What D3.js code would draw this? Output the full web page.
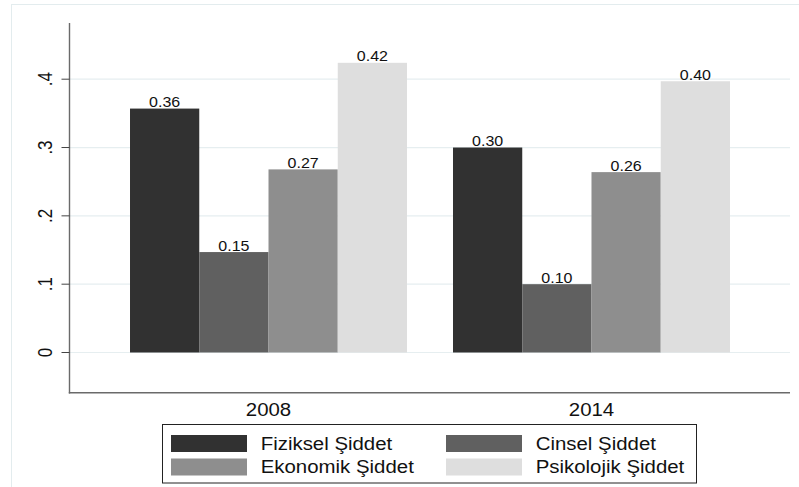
<!DOCTYPE html>
<html>
<head>
<meta charset="utf-8">
<script src="https://cdn.jsdelivr.net/npm/d3@7"></script>
<style>
  html, body { margin: 0; padding: 0; background: #fff; }
  svg { display: block; font-family: "Liberation Sans", Arial, Helvetica, sans-serif; }
</style>
</head>
<body>
<svg id="chart" width="799" height="487"></svg>
<script>
const years = ["2008", "2014"];
const seriesNames = ["Fiziksel Şiddet", "Cinsel Şiddet", "Ekonomik Şiddet", "Psikolojik Şiddet"];
const fiziksel = [0.357, 0.300];
const cinsel = [0.147, 0.100];
const ekonomik = [0.268, 0.264];
const psikolojik = [0.424, 0.397];
const yTicks = [0, 0.1, 0.2, 0.3, 0.4];
const yTickLabels = ["0", ".1", ".2", ".3", ".4"];
const seriesColors = ["#313131", "#606060", "#8e8e8e", "#dedede"];

const seriesValues = [fiziksel, cinsel, ekonomik, psikolojik];

const svg = d3.select("#chart");
const W = 799, H = 487;
const plotLeft = 70, plotRight = 790, plotTop = 23, plotBottom = 392.7;
const SX = 1.16; // horizontal stretch of the reference typography

// outer faint frame
svg.append("rect").attr("x", 11.5).attr("y", 4.5).attr("width", W).attr("height", H)
  .attr("fill", "none").attr("stroke", "#e3ecee").attr("stroke-width", 1);

const y = d3.scaleLinear().domain([0, 0.4]).range([352.5, 79.2]);
const x0 = d3.scaleBand().domain(years).range([plotLeft, plotRight])
  .paddingInner(0.1424).paddingOuter(0.1858);
const x1 = d3.scaleBand().domain(d3.range(seriesNames.length)).range([0, x0.bandwidth()]).padding(0);

// gridlines
svg.append("g").selectAll("line").data(yTicks).join("line")
  .attr("x1", plotLeft).attr("x2", plotRight)
  .attr("y1", d => y(d)).attr("y2", d => y(d))
  .attr("stroke", "#e6eef0").attr("stroke-width", 1.2);

// bars
const groups = svg.append("g").selectAll("g").data(years).join("g")
  .attr("transform", d => `translate(${x0(d)},0)`);

groups.each(function(yr, gi) {
  const g = d3.select(this);
  const data = seriesValues.map((vals, si) => ({ si, v: vals[gi] }));
  g.selectAll("rect").data(data).join("rect")
    .attr("x", d => x1(d.si))
    .attr("width", x1.bandwidth())
    .attr("y", d => y(d.v))
    .attr("height", d => y(0) - y(d.v))
    .attr("fill", d => seriesColors[d.si]);
  g.selectAll("text").data(data).join("text")
    .attr("transform", d => `translate(${x1(d.si) + x1.bandwidth() / 2},${y(d.v) - 1.5}) scale(${SX},1)`)
    .attr("text-anchor", "middle")
    .attr("font-size", 13.8)
    .attr("fill", "#111")
    .text(d => d.v.toFixed(2));
});

// y axis
const yAxisG = svg.append("g");
yAxisG.append("line").attr("x1", plotLeft - 0.5).attr("x2", plotLeft - 0.5)
  .attr("y1", plotTop).attr("y2", plotBottom + 0.7)
  .attr("stroke", "#6a6a6a").attr("stroke-width", 1.4);
yAxisG.selectAll("line.tick").data(yTicks).join("line").attr("class", "tick")
  .attr("x1", plotLeft - 8.5).attr("x2", plotLeft - 0.5)
  .attr("y1", d => y(d)).attr("y2", d => y(d))
  .attr("stroke", "#444").attr("stroke-width", 1);
yAxisG.selectAll("text").data(yTicks).join("text")
  .attr("transform", d => `translate(51.5,${y(d)}) scale(${SX},1) rotate(-90)`)
  .attr("text-anchor", "middle")
  .attr("font-size", 17)
  .attr("fill", "#111")
  .text((d, i) => yTickLabels[i]);

// x axis
svg.append("line").attr("x1", plotLeft - 1.2).attr("x2", plotRight)
  .attr("y1", plotBottom).attr("y2", plotBottom)
  .attr("stroke", "#6a6a6a").attr("stroke-width", 1.4);
svg.append("g").selectAll("text").data(years).join("text")
  .attr("transform", d => `translate(${x0(d) + x0.bandwidth() / 2},416) scale(${SX},1)`)
  .attr("text-anchor", "middle")
  .attr("font-size", 17.6)
  .attr("fill", "#111")
  .text(d => d);

// legend
const leg = svg.append("g");
leg.append("rect").attr("x", 162.5).attr("y", 424.5).attr("width", 534).attr("height", 58.5)
  .attr("fill", "#fff").attr("stroke", "#222").attr("stroke-width", 1);
const legPos = [
  { sx: 171, tx: 260.7, sy: 435 },
  { sx: 446, tx: 535.7, sy: 435 },
  { sx: 171, tx: 260.7, sy: 458.5 },
  { sx: 446, tx: 535.7, sy: 458.5 }
];
seriesNames.forEach((name, i) => {
  const p = legPos[i];
  leg.append("rect").attr("x", p.sx).attr("y", p.sy).attr("width", 76).attr("height", 17)
    .attr("fill", seriesColors[i]);
  leg.append("text").attr("transform", `translate(${p.tx},${p.sy + 14.8}) scale(${SX},1)`)
    .attr("font-size", 17.6).attr("fill", "#111").text(name);
});
</script>
</body>
</html>
